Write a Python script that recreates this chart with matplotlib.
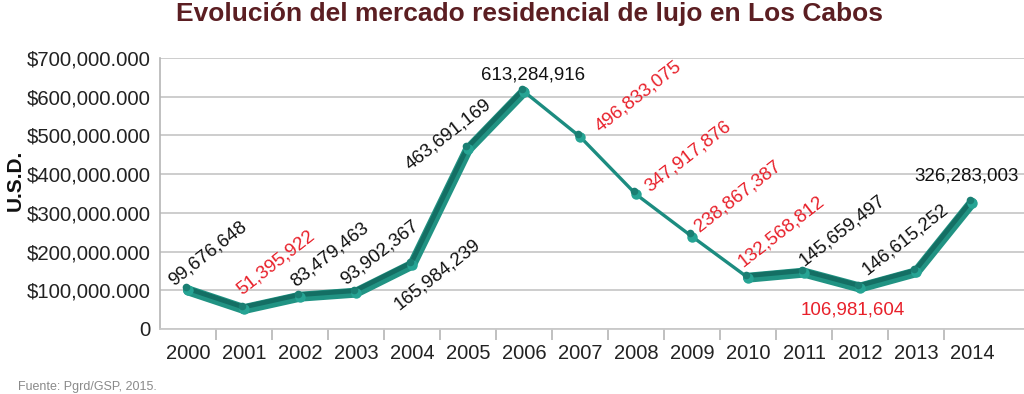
import matplotlib
matplotlib.use("Agg")
import matplotlib.pyplot as plt
import matplotlib.transforms as mtransforms

plt.rcParams['font.family'] = ['Liberation Sans', 'DejaVu Sans']

years = ['2000', '2001', '2002', '2003', '2004', '2005', '2006', '2007',
         '2008', '2009', '2010', '2011', '2012', '2013', '2014']
values = [99676648, 51395922, 83479463, 93902367, 165984239, 463691169,
          613284916, 496833075, 347917876, 238867387, 132568812, 145659497,
          106981604, 146615252, 326283003]
ytick_values = [0, 100e6, 200e6, 300e6, 400e6, 500e6, 600e6, 700e6]
ytick_labels = ['0', '$100,000.000', '$200,000.000', '$300,000.000',
                '$400,000.000', '$500,000.000', '$600,000.000', '$700,000.000']
title = 'Evolución del mercado residencial de lujo en Los Cabos'
source = 'Fuente: Pgrd/GSP, 2015.'

# layout / style (not data)
seg_thick = [True] * 6 + [False] * 4 + [True] * 4
label_offsets_px = [(20, 37), (32, 46), (30, 42), (24, 40), (25, -10), (-20, 15),
                    (9, 17), (58, 40), (52, 38), (46, 40), (33, 46), (38, 42),
                    (-7, -22), (-11, 33), (-5, 27)]
label_rot = [38] * 15
label_rot[6] = 0
label_rot[12] = 0
label_rot[14] = 0

W, H = 1024, 394
fig = plt.figure(figsize=(W / 100, H / 100), dpi=100)
ax = fig.add_axes([160 / W, (H - 329) / H, 864 / W, (329 - 58) / H])

unit = 864 / 56.0
ax.set_xlim(-0.5, -0.5 + unit)
ax.set_ylim(0, 700e6)

ax.set_yticks(ytick_values)
ax.set_yticklabels(ytick_labels)
ax.yaxis.grid(True, color='#c9c9c9', lw=1.3)
ax.set_axisbelow(True)
ax.tick_params(axis='y', length=0, pad=7, labelsize=14.7, labelcolor='#222222')

ax.set_xticks(range(len(years)))
ax.set_xticklabels(years)
ax.set_xticks([i + 0.5 for i in range(len(years) - 1)], minor=True)
ax.tick_params(axis='x', which='major', length=0, pad=11, labelsize=14.5,
               labelcolor='#222222')
ax.tick_params(axis='x', which='minor', length=8, width=1.2, color='#b5b5b5',
               direction='out')

for s in ['top', 'right']:
    ax.spines[s].set_visible(False)
ax.spines['left'].set_color('#b5b5b5')
ax.spines['left'].set_linewidth(1.2)
ax.spines['bottom'].set_color('#c9c9c9')
ax.spines['bottom'].set_linewidth(1.3)

x = list(range(len(years)))
up = mtransforms.offset_copy(ax.transData, fig=fig, x=-0.5, y=1.4, units='points')

for i in range(len(years) - 1):
    xs = [x[i], x[i + 1]]
    ys = [values[i], values[i + 1]]
    if seg_thick[i]:
        ax.plot(xs, ys, color='#219383', lw=7.2, solid_capstyle='round', zorder=3)
        ax.plot(xs, ys, color='#146f64', lw=3.4, solid_capstyle='butt',
                transform=up, zorder=4)
    else:
        ax.plot(xs, ys, color='#1c8c80', lw=2.4, solid_capstyle='round', zorder=3)

ax.plot(x, values, 'o', ms=7.5, color='#26a494', mec='none', zorder=5)
ax.plot(x, values, 'o', ms=5.5, color='#1a7f73', mec='none', zorder=6,
        transform=mtransforms.offset_copy(ax.transData, fig=fig, x=-1.5, y=2.2,
                                          units='points'))

for i, v in enumerate(values):
    col = '#e8202a' if (i > 0 and v < values[i - 1]) else '#111111'
    dx, dy = label_offsets_px[i]
    ax.annotate(f"{v:,}", (x[i], v), xytext=(dx * 0.72, dy * 0.72),
                textcoords='offset points', ha='center', va='center',
                rotation=label_rot[i], rotation_mode='anchor',
                fontsize=13.5, color=col, zorder=7)

fig.text(530 / W, 1 - 21 / H, title, ha='center', va='baseline', fontsize=19,
         fontweight='bold', color='#5b1e22')
fig.text(15 / W, 1 - 180 / H, 'U.S.D.', ha='center', va='center', rotation=90,
         fontsize=15, fontweight='bold', color='#111111')
fig.text(18 / W, 1 - 387 / H, source, ha='left', va='center', fontsize=9,
         color='#8a8a8a')

fig.savefig('out.png', dpi=100)
